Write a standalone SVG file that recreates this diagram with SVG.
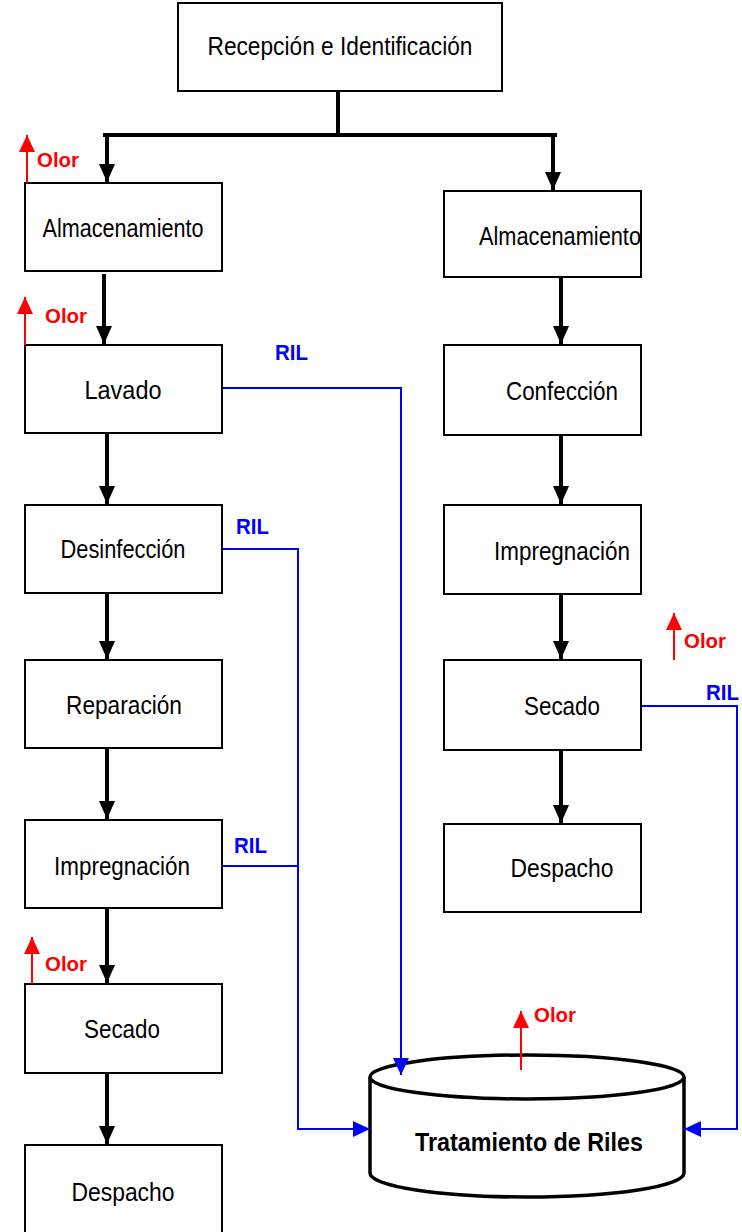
<svg xmlns="http://www.w3.org/2000/svg" width="742" height="1232" viewBox="0 0 742 1232">
<style>
.box{fill:#fff;stroke:#000;stroke-width:2}
.lbl{font-family:"Liberation Sans",Arial,sans-serif;font-size:26px;fill:#000;text-anchor:middle}
.flow{fill:none;stroke:#000;stroke-width:4}
.olor{fill:none;stroke:#f00;stroke-width:2}
.ril{fill:none;stroke:#00f;stroke-width:2}
.otxt{font-family:"Liberation Sans",Arial,sans-serif;font-weight:bold;font-size:21px;fill:#f00}
.rtxt{font-family:"Liberation Sans",Arial,sans-serif;font-weight:bold;font-size:22px;fill:#00f}
</style>
<defs>
<marker id="ab" viewBox="0 0 18 16" refX="18" refY="8" markerWidth="18" markerHeight="16" markerUnits="userSpaceOnUse" orient="auto"><path d="M0,0 L18,8 L0,16 z" fill="#000"/></marker>
<marker id="ar" viewBox="0 0 17 16" refX="17" refY="8" markerWidth="17" markerHeight="16" markerUnits="userSpaceOnUse" orient="auto"><path d="M0,0 L17,8 L0,16 z" fill="#f00"/></marker>
<marker id="au" viewBox="0 0 17 16" refX="17" refY="8" markerWidth="17" markerHeight="16" markerUnits="userSpaceOnUse" orient="auto"><path d="M0,0 L17,8 L0,16 z" fill="#00f"/></marker>
</defs>

<g id="n-recepcion"><rect class="box" x="178" y="3" width="324" height="88"/><text class="lbl" x="340" y="55" textLength="265" lengthAdjust="spacingAndGlyphs">Recepción e Identificación</text></g>
<g id="n-almac-l"><rect class="box" x="25" y="183" width="197" height="88"/><text class="lbl" x="123" y="237" textLength="161" lengthAdjust="spacingAndGlyphs">Almacenamiento</text></g>
<g id="n-lavado"><rect class="box" x="25" y="345" width="197" height="88"/><text class="lbl" x="123" y="399" textLength="77" lengthAdjust="spacingAndGlyphs">Lavado</text></g>
<g id="n-desinf"><rect class="box" x="25" y="505" width="197" height="88"/><text class="lbl" x="123" y="558" textLength="125" lengthAdjust="spacingAndGlyphs">Desinfección</text></g>
<g id="n-repar"><rect class="box" x="25" y="660" width="197" height="88"/><text class="lbl" x="124" y="714" textLength="116" lengthAdjust="spacingAndGlyphs">Reparación</text></g>
<g id="n-impreg-l"><rect class="box" x="25" y="820" width="197" height="88"/><text class="lbl" x="122" y="875" textLength="136" lengthAdjust="spacingAndGlyphs">Impregnación</text></g>
<g id="n-secado-l"><rect class="box" x="25" y="984" width="197" height="89"/><text class="lbl" x="122" y="1038" textLength="76" lengthAdjust="spacingAndGlyphs">Secado</text></g>
<g id="n-despacho-l"><rect class="box" x="25" y="1145" width="197" height="88"/><text class="lbl" x="123" y="1201" textLength="103" lengthAdjust="spacingAndGlyphs">Despacho</text></g>

<g id="n-almac-r"><rect class="box" x="444" y="191" width="197" height="86"/><text class="lbl" x="560" y="245" textLength="162" lengthAdjust="spacingAndGlyphs">Almacenamiento</text></g>
<g id="n-confeccion"><rect class="box" x="444" y="345" width="197" height="90"/><text class="lbl" x="562" y="400" textLength="112" lengthAdjust="spacingAndGlyphs">Confección</text></g>
<g id="n-impreg-r"><rect class="box" x="444" y="505" width="197" height="89"/><text class="lbl" x="562" y="560" textLength="136" lengthAdjust="spacingAndGlyphs">Impregnación</text></g>
<g id="n-secado-r"><rect class="box" x="444" y="660" width="197" height="90"/><text class="lbl" x="562" y="715" textLength="76" lengthAdjust="spacingAndGlyphs">Secado</text></g>
<g id="n-despacho-r"><rect class="box" x="444" y="824" width="197" height="88"/><text class="lbl" x="562" y="877" textLength="103" lengthAdjust="spacingAndGlyphs">Despacho</text></g>

<g id="n-tratamiento">
<path d="M370,1077 V1173 A157,24 0 0 0 684,1173 V1077" fill="#fff" stroke="#000" stroke-width="3.5"/>
<ellipse cx="527" cy="1077" rx="157" ry="22" fill="#fff" stroke="#000" stroke-width="3.5"/>
<text x="529" y="1151" font-family="Liberation Sans, Arial, sans-serif" font-weight="bold" font-size="25" text-anchor="middle" textLength="228" lengthAdjust="spacingAndGlyphs">Tratamiento  de Riles</text>
</g>

<g id="connectors">
<path class="flow" d="M338,92 V135"/>
<path class="flow" d="M105,135 H555" stroke-linecap="square"/>
<path class="flow" d="M107,135 V182" marker-end="url(#ab)"/>
<path class="flow" d="M553,135 V190" marker-end="url(#ab)"/>
<path class="flow" d="M104,274 V344" marker-end="url(#ab)"/>
<path class="flow" d="M107,434 V504" marker-end="url(#ab)"/>
<path class="flow" d="M107,594 V659" marker-end="url(#ab)"/>
<path class="flow" d="M107,749 V819" marker-end="url(#ab)"/>
<path class="flow" d="M107,909 V983" marker-end="url(#ab)"/>
<path class="flow" d="M107,1074 V1144" marker-end="url(#ab)"/>
<path class="flow" d="M561,278 V344" marker-end="url(#ab)"/>
<path class="flow" d="M561,436 V504" marker-end="url(#ab)"/>
<path class="flow" d="M561,595 V659" marker-end="url(#ab)"/>
<path class="flow" d="M561,751 V823" marker-end="url(#ab)"/>

<path class="ril" d="M223,388 H401 V1075" marker-end="url(#au)"/>
<path class="ril" d="M223,549 H298 V1129 H370" marker-end="url(#au)"/>
<path class="ril" d="M223,866 H298"/>
<path class="ril" d="M642,706 H737 V1129 H684" marker-end="url(#au)"/>

<path class="olor" d="M27,183 V135" marker-end="url(#ar)"/>
<path class="olor" d="M25,345 V297" marker-end="url(#ar)"/>
<path class="olor" d="M32,984 V937" marker-end="url(#ar)"/>
<path class="olor" d="M674,660 V613" marker-end="url(#ar)"/>
<path class="olor" d="M521,1070 V1011" marker-end="url(#ar)"/>

<text class="otxt" x="37" y="167" textLength="42" lengthAdjust="spacingAndGlyphs">Olor</text>
<text class="otxt" x="45" y="323" textLength="42" lengthAdjust="spacingAndGlyphs">Olor</text>
<text class="otxt" x="45" y="971" textLength="42" lengthAdjust="spacingAndGlyphs">Olor</text>
<text class="otxt" x="684" y="648" textLength="42" lengthAdjust="spacingAndGlyphs">Olor</text>
<text class="otxt" x="534" y="1022" textLength="42" lengthAdjust="spacingAndGlyphs">Olor</text>

<text class="rtxt" x="275" y="360" textLength="33" lengthAdjust="spacingAndGlyphs">RIL</text>
<text class="rtxt" x="236" y="534" textLength="33" lengthAdjust="spacingAndGlyphs">RIL</text>
<text class="rtxt" x="234" y="853" textLength="33" lengthAdjust="spacingAndGlyphs">RIL</text>
<text class="rtxt" x="706" y="700" textLength="33" lengthAdjust="spacingAndGlyphs">RIL</text>
</g>
</svg>
